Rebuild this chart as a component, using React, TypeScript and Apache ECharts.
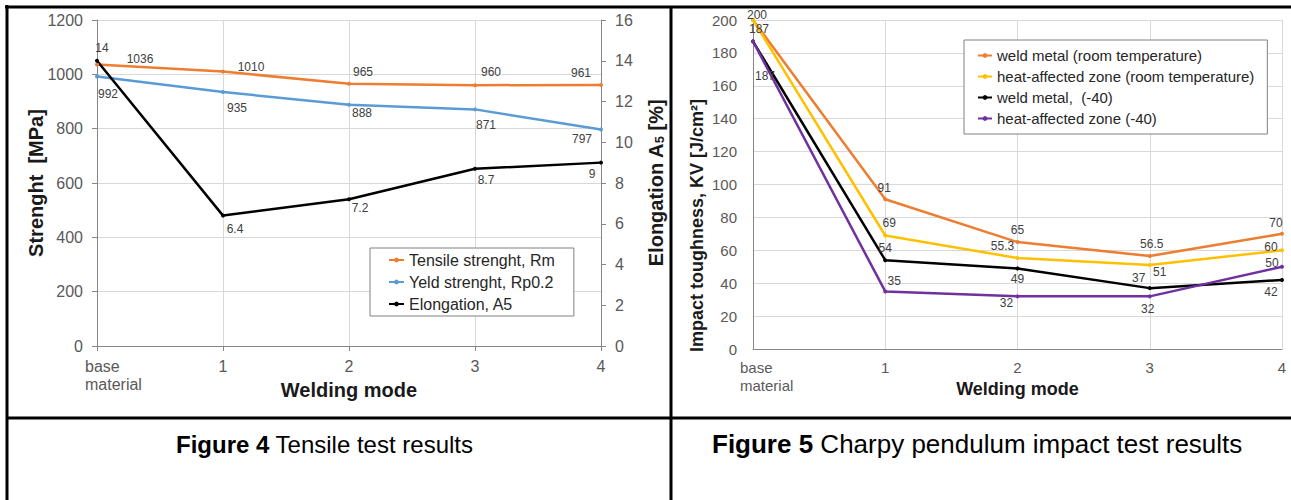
import React, { useEffect, useRef } from 'react';
import * as echarts from 'echarts';

// ---------- data ----------
const categories = ['base material', '1', '2', '3', '4'];

// Figure 4 – tensile test
const tensileRm = [1036, 1010, 965, 960, 961];
const yieldRp02 = [992, 935, 888, 871, 797];
const elongationA5 = [14, 6.4, 7.2, 8.7, 9];
const strengthTicks = { min: 0, max: 1200, interval: 200 };
const elongationTicks = { min: 0, max: 16, interval: 2 };

// Figure 5 – Charpy impact test
const weldMetalRT = [200, 91, 65, 56.5, 70];
const hazRT = [200, 69, 55.3, 51, 60];
const weldMetal40 = [187, 54, 49, 37, 42];
const haz40 = [187, 35, 32, 32, 50];
const impactTicks = { min: 0, max: 200, interval: 20 };

// ---------- label placement (styling only) ----------
const tensileOff = [[43, -6], [28, -5], [14, -12], [16, -13], [-20, -12]];
const yieldOff = [[11, 17], [14, 16], [13, 8], [11, 16], [-19, 10]];
const elongOff = [[5, -13], [12, 13], [11, 9], [11, 11], [-9, 11]];
const weldRTOff = [[4, -5], [-1, -11], [0, -12], [2, -12], [-6, -11]];
const hazRTOff = [null, [4, -12], [-15, -12], [10, 7], [-11, -3]];
const weld40Off = [[6, -12], [0, -12], [0, 11], [-11, -10], [-11, 12]];
const haz40Off = [[12, 35], [9, -10], [-11, 7], [-2, 13], [-10, -4]];

const FONT = '"Liberation Sans", Arial, Helvetica, sans-serif';
const GRID_COLOR = '#D9D9D9';
const AXIS_COLOR = '#868686';
const TICK_TEXT = '#595959';

const plain = (v: number) => String(v);

function lineSeries(
  name: string,
  values: number[],
  color: string,
  offsets: (number[] | null)[],
  xAxisIndex: number,
  yAxisIndex: number
) {
  return {
    type: 'line',
    name,
    xAxisIndex,
    yAxisIndex,
    data: values.map((v, i) => ({
      value: v,
      label: offsets[i] ? { show: true, offset: offsets[i] } : { show: false },
    })),
    symbol: 'circle',
    symbolSize: 4,
    lineStyle: { width: 2.5, color },
    itemStyle: { color },
    label: {
      show: true,
      position: 'inside',
      color: '#404040',
      fontSize: 12,
      fontFamily: FONT,
    },
    emphasis: { disabled: true },
  };
}

function catAxis(gridIndex: number, fontSize: number, firstPad: number, ticks: boolean, nameSize: number, nameGap: number, labelMargin: number) {
  return {
    type: 'category',
    gridIndex,
    boundaryGap: false,
    data: categories.map((c, i) =>
      i === 0
        ? { value: c, textStyle: { align: 'left', padding: [0, 0, 0, firstPad] } }
        : c
    ),
    name: 'Welding mode',
    nameLocation: 'middle',
    nameGap,
    nameMoveOverlap: false,
    nameTextStyle: { fontSize: nameSize, fontWeight: 'bold', color: '#1a1a1a', fontFamily: FONT },
    axisLine: { show: true, lineStyle: { color: AXIS_COLOR, width: 1 } },
    axisTick: { show: ticks, alignWithLabel: true, length: 5, lineStyle: { color: AXIS_COLOR } },
    axisLabel: {
      interval: 0,
      margin: labelMargin,
      fontSize,
      lineHeight: 18,
      color: TICK_TEXT,
      fontFamily: FONT,
      formatter: (v: string) => v.replace(' ', '\n'),
    },
    splitLine: { show: true, lineStyle: { color: GRID_COLOR, width: 1 } },
  };
}

export default function App() {
  const ref = useRef<HTMLDivElement>(null);

  useEffect(() => {
    if (!ref.current) return;
    const chart = echarts.init(ref.current, undefined, { renderer: 'svg' });

    const option: any = {
      animation: false,
      backgroundColor: '#ffffff',
      textStyle: { fontFamily: FONT },
      grid: [
        { left: 97, top: 20, width: 504, height: 326, outerBoundsMode: 'none', containLabel: false },
        { left: 753, top: 20, width: 529, height: 329, outerBoundsMode: 'none', containLabel: false },
      ],
      xAxis: [
        catAxis(0, 16, -12, true, 20, 34, 11),
        catAxis(1, 15, -13, false, 18, 31, 9),
      ],
      yAxis: [
        {
          type: 'value',
          gridIndex: 0,
          position: 'left',
          ...strengthTicks,
          name: 'Strenght  [MPa]',
          nameLocation: 'middle',
          nameRotate: 90,
          nameGap: 51,
          nameMoveOverlap: false,
          nameTextStyle: { fontSize: 20, fontWeight: 'bold', color: '#1a1a1a', fontFamily: FONT },
          axisLine: { show: true, lineStyle: { color: AXIS_COLOR, width: 1 } },
          axisTick: { show: true, length: 5, lineStyle: { color: AXIS_COLOR } },
          axisLabel: { fontSize: 16, color: TICK_TEXT, margin: 14, fontFamily: FONT, formatter: plain },
          splitLine: { show: true, lineStyle: { color: GRID_COLOR, width: 1 } },
        },
        {
          type: 'value',
          gridIndex: 0,
          position: 'right',
          ...elongationTicks,
          name: 'Elongation A{sub|5} [%]',
          nameLocation: 'middle',
          nameRotate: 90,
          nameGap: 44,
          nameMoveOverlap: false,
          nameTextStyle: {
            fontSize: 20,
            fontWeight: 'bold',
            color: '#1a1a1a',
            fontFamily: FONT,
            rich: {
              sub: { fontSize: 13, fontWeight: 'bold', color: '#1a1a1a', fontFamily: FONT, padding: [8, 0, 0, 0] },
            },
          },
          axisLine: { show: true, lineStyle: { color: AXIS_COLOR, width: 1 } },
          axisTick: { show: true, length: 5, lineStyle: { color: AXIS_COLOR } },
          axisLabel: { fontSize: 16, color: TICK_TEXT, margin: 14, fontFamily: FONT, formatter: plain },
          splitLine: { show: false },
        },
        {
          type: 'value',
          gridIndex: 1,
          position: 'left',
          ...impactTicks,
          name: 'Impact toughness, KV [J/cm²]',
          nameLocation: 'middle',
          nameRotate: 90,
          nameGap: 47,
          nameMoveOverlap: false,
          nameTextStyle: {
            fontSize: 18,
            fontWeight: 'bold',
            color: '#1a1a1a',
            fontFamily: FONT,
            padding: [0, 82, 0, 0],
          },
          axisLine: { show: true, lineStyle: { color: AXIS_COLOR, width: 1 } },
          axisTick: { show: false },
          axisLabel: { fontSize: 15, color: TICK_TEXT, margin: 16, fontFamily: FONT, formatter: plain },
          splitLine: { show: true, lineStyle: { color: GRID_COLOR, width: 1 } },
        },
      ],
      legend: [
        {
          orient: 'vertical',
          left: 370,
          top: 248,
          data: ['Tensile strenght, Rm', 'Yeld strenght, Rp0.2', 'Elongation, A5'],
          padding: [4, 19, 4, 18],
          itemWidth: 15,
          itemHeight: 6,
          itemGap: 6,
          borderColor: '#808080',
          borderWidth: 1,
          borderRadius: 0,
          backgroundColor: '#ffffff',
          textStyle: { fontSize: 16, color: '#262626', fontFamily: FONT },
          selectedMode: false,
        },
        {
          orient: 'vertical',
          left: 964,
          top: 40,
          data: [
            'weld metal (room temperature)',
            'heat-affected zone (room temperature)',
            'weld metal,  (-40)',
            'heat-affected zone (-40)',
          ],
          padding: [8, 13, 8, 13],
          itemWidth: 14,
          itemHeight: 6,
          itemGap: 6,
          borderColor: '#808080',
          borderWidth: 1,
          borderRadius: 0,
          backgroundColor: '#ffffff',
          textStyle: { fontSize: 15, color: '#262626', fontFamily: FONT },
          selectedMode: false,
        },
      ],
      series: [
        lineSeries('Tensile strenght, Rm', tensileRm, '#ED7D31', tensileOff, 0, 0),
        lineSeries('Yeld strenght, Rp0.2', yieldRp02, '#5B9BD5', yieldOff, 0, 0),
        lineSeries('Elongation, A5', elongationA5, '#000000', elongOff, 0, 1),
        lineSeries('weld metal (room temperature)', weldMetalRT, '#ED7D31', weldRTOff, 1, 2),
        lineSeries('heat-affected zone (room temperature)', hazRT, '#FFC000', hazRTOff, 1, 2),
        lineSeries('weld metal,  (-40)', weldMetal40, '#000000', weld40Off, 1, 2),
        lineSeries('heat-affected zone (-40)', haz40, '#7030A0', haz40Off, 1, 2),
      ],
      graphic: [
        { type: 'line', shape: { x1: 5, y1: 7, x2: 1291, y2: 7 }, style: { stroke: '#000', lineWidth: 3 } },
        { type: 'line', shape: { x1: 7, y1: 5, x2: 7, y2: 500 }, style: { stroke: '#000', lineWidth: 3 } },
        { type: 'line', shape: { x1: 671, y1: 7, x2: 671, y2: 500 }, style: { stroke: '#000', lineWidth: 3 } },
        { type: 'line', shape: { x1: 7, y1: 418, x2: 1291, y2: 418 }, style: { stroke: '#000', lineWidth: 3 } },
        {
          type: 'text',
          x: 176,
          y: 444,
          style: {
            text: '{b|Figure 4} Tensile test results',
            fontSize: 24,
            fontFamily: FONT,
            fill: '#000',
            textAlign: 'left',
            textVerticalAlign: 'middle',
            rich: { b: { fontSize: 24, fontWeight: 'bold', fontFamily: FONT, fill: '#000' } },
          },
        },
        {
          type: 'text',
          x: 712,
          y: 444,
          style: {
            text: '{b|Figure 5} Charpy pendulum impact test results',
            fontSize: 26,
            fontFamily: FONT,
            fill: '#000',
            textAlign: 'left',
            textVerticalAlign: 'middle',
            rich: { b: { fontSize: 26, fontWeight: 'bold', fontFamily: FONT, fill: '#000' } },
          },
        },
      ],
    };

    chart.setOption(option);
    return () => chart.dispose();
  }, []);

  return (
    <div
      ref={ref}
      style={{ position: 'absolute', left: 0, top: 0, width: 1291, height: 500, background: '#fff' }}
    />
  );
}
